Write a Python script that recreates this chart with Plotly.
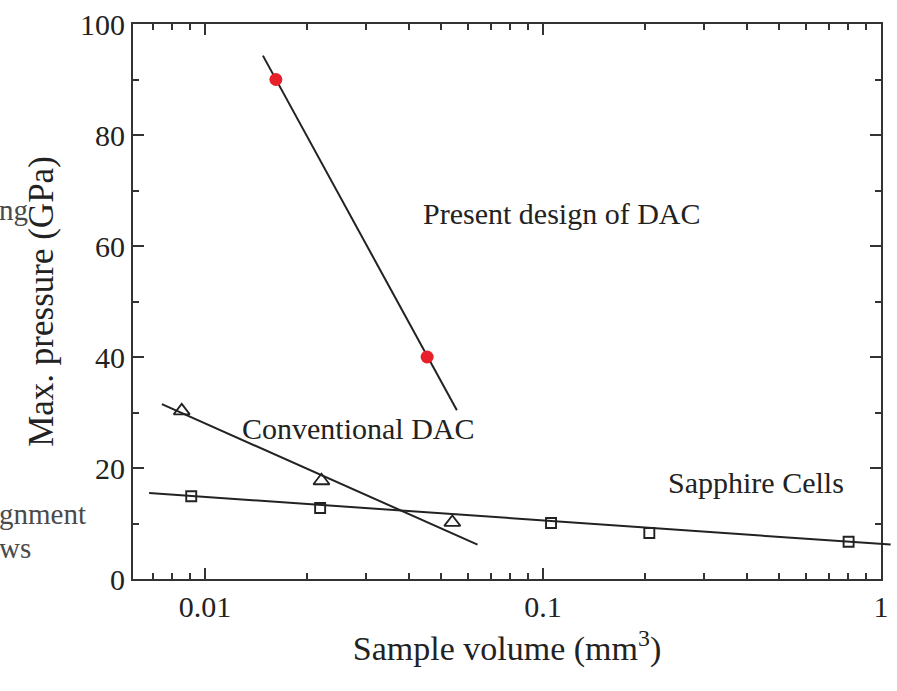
import numpy as np
import plotly.graph_objects as go

# ---------------- data ----------------
present_vol = [0.0162, 0.0454]
present_p = [90.0, 40.0]
present_fit_vol = [0.01483, 0.0556]
present_fit_p = [94.3, 30.4]

conv_vol = [0.00853, 0.0221, 0.0539]
conv_p = [30.3, 17.7, 10.2]
conv_fit_vol = [0.00745, 0.064]
conv_fit_p = [31.5, 6.2]

sapph_vol = [0.0091, 0.0219, 0.1056, 0.2063, 0.802]
sapph_p = [14.9, 12.8, 10.1, 8.3, 6.7]
sapph_fit_vol = [0.00683, 1.068]
sapph_fit_p = [15.5, 6.2]

x_tickvals = [0.01, 0.1, 1]
x_ticktext = ["0.01", "0.1", "1"]
x_minor_vals = [0.007, 0.008, 0.009,
                0.02, 0.03, 0.04, 0.05, 0.06, 0.07, 0.08, 0.09,
                0.2, 0.3, 0.4, 0.5, 0.6, 0.7, 0.8, 0.9]
y_tickvals = [0, 20, 40, 60, 80, 100]
y_minor_vals = [10, 30, 50, 70, 90]

labels = ["Present design of DAC", "Conventional DAC", "Sapphire Cells"]
label_vol = [0.1135, 0.0284, 0.428]
label_p = [65.8, 27.2, 17.3]

fragments = ["ng", "gnment", "ws"]

# ---------------- layout geometry ----------------
W, H = 897, 691
ML, MR, MT, MB = 133, 4, 24, 112
PW = W - ML - MR
PH = H - MT - MB
main_w = 748
dom_main = main_w / PW
XL, XR = np.log10(0.00612), 0.0
x2_range = [XL, XL + (XR - XL) * PW / main_w]

FONT = "Liberation Serif, Times New Roman, serif"
INK = "#222222"
AX = "#333333"

fig = go.Figure()

fig.add_trace(go.Scatter(x=present_fit_vol, y=present_fit_p, mode="lines",
                         line=dict(color=INK, width=2), showlegend=False, hoverinfo="skip"))
fig.add_trace(go.Scatter(x=conv_fit_vol, y=conv_fit_p, mode="lines",
                         line=dict(color=INK, width=2), showlegend=False, hoverinfo="skip"))
fig.add_trace(go.Scatter(x=sapph_fit_vol, y=sapph_fit_p, mode="lines", xaxis="x2", yaxis="y2",
                         line=dict(color=INK, width=2), showlegend=False, hoverinfo="skip"))

fig.add_trace(go.Scatter(x=present_vol, y=present_p, mode="markers", showlegend=False,
                         marker=dict(symbol="circle", size=13, color="#e8202a",
                                     line=dict(width=0))))
fig.add_trace(go.Scatter(x=conv_vol, y=conv_p, mode="markers", showlegend=False,
                         marker=dict(symbol="triangle-up-open", size=14, color=INK,
                                     line=dict(width=1.8, color=INK))))
fig.add_trace(go.Scatter(x=sapph_vol, y=sapph_p, mode="markers", showlegend=False,
                         marker=dict(symbol="square-open", size=10, color=INK,
                                     line=dict(width=1.9, color=INK))))

annotations = []
for t, xv, yv in zip(labels, label_vol, label_p):
    annotations.append(dict(x=np.log10(xv), y=yv, xref="x", yref="y", text=t, showarrow=False,
                            xanchor="center", yanchor="middle",
                            font=dict(family=FONT, size=30, color=INK)))

frag_y = [210, 514, 548]
for t, py in zip(fragments, frag_y):
    annotations.append(dict(x=(-2 - ML) / PW, y=(H - MB - py) / PH, xref="paper", yref="paper",
                            text=t, showarrow=False, xanchor="left", yanchor="middle",
                            borderpad=0,
                            font=dict(family=FONT, size=29, color="#4a4a4a")))

axis_common = dict(showline=True, linewidth=2, linecolor=AX, mirror="ticks",
                   ticks="inside", ticklen=11, tickwidth=2, tickcolor=AX,
                   showgrid=False, zeroline=False, automargin=False,
                   tickfont=dict(family=FONT, size=30, color=INK))

fig.update_layout(
    width=W, height=H,
    margin=dict(l=ML, r=MR, t=MT, b=MB, pad=0, autoexpand=False),
    paper_bgcolor="white", plot_bgcolor="rgba(0,0,0,0)",
    showlegend=False,
    annotations=annotations,
    xaxis=dict(type="log", range=[XL, XR], domain=[0, dom_main],
               tickmode="array", tickvals=x_tickvals, ticktext=x_ticktext,
               minor=dict(ticks="inside", ticklen=6, tickwidth=2, tickcolor=AX,
                          tickmode="array", tickvals=x_minor_vals, showgrid=False),
               title=dict(text="Sample volume (mm<sup>3</sup>)",
                          font=dict(family=FONT, size=34, color=INK), standoff=14),
               **axis_common),
    yaxis=dict(range=[0, 100], tickmode="array", tickvals=y_tickvals,
               minor=dict(ticks="inside", ticklen=6, tickwidth=2, tickcolor=AX,
                          tickmode="array", tickvals=y_minor_vals, showgrid=False),
               title=dict(text="Max. pressure (GPa)",
                          font=dict(family=FONT, size=35, color=INK), standoff=16),
               **axis_common),
    xaxis2=dict(type="log", range=x2_range, domain=[0, 1], anchor="y2", visible=False,
                showgrid=False, zeroline=False),
    yaxis2=dict(range=[0, 100], domain=[0, 1], anchor="x2", visible=False,
                showgrid=False, zeroline=False),
)

fig.write_html("out.html")
